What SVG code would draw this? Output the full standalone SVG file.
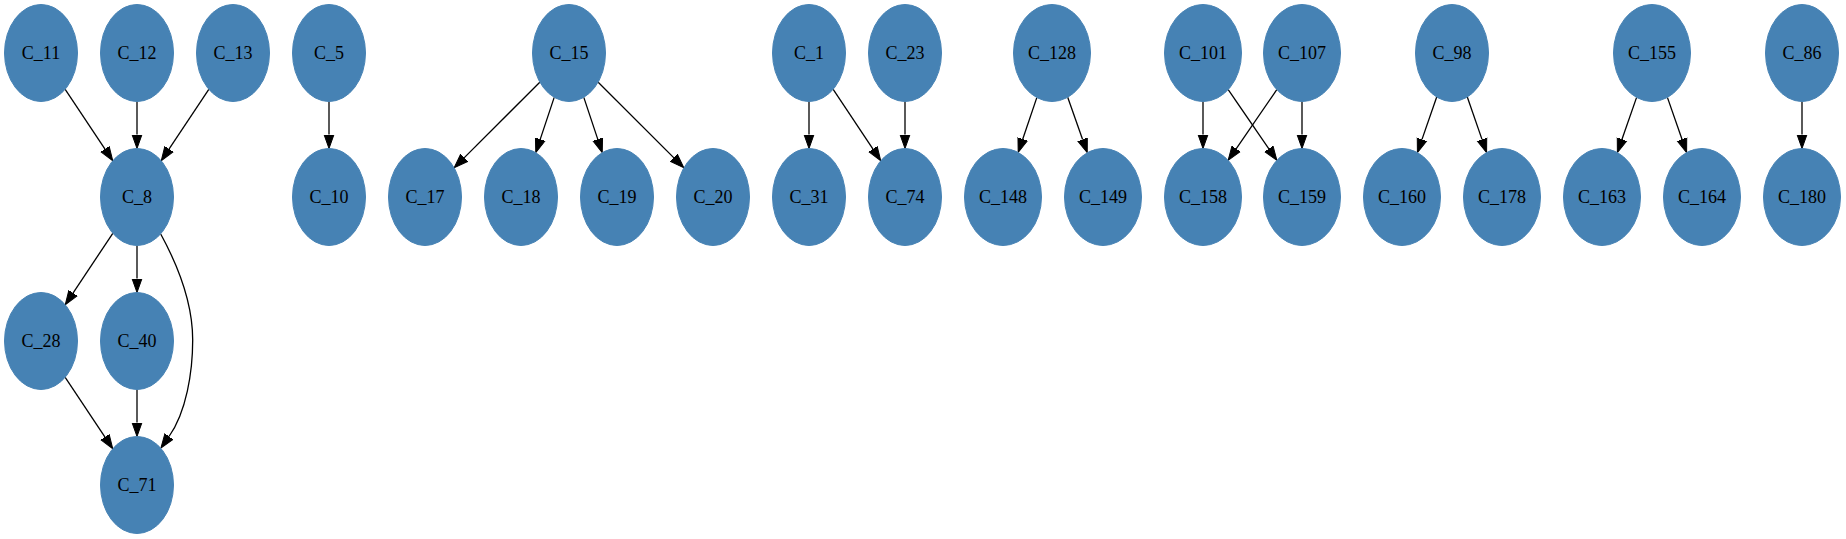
<svg xmlns="http://www.w3.org/2000/svg" width="1846" height="539" viewBox="0 0 1846 539">
<style>
.n ellipse{fill:#4682b4;stroke:#4682b4;stroke-width:1}
.n text{font-family:"Liberation Serif","Times New Roman",serif;font-size:18px;text-anchor:middle;fill:#000}
.e path{fill:none;stroke:#000;stroke-width:1.3;marker-end:url(#ah)}
</style>
<defs>
<marker id="ah" markerUnits="userSpaceOnUse" markerWidth="16" markerHeight="12" viewBox="0 -6 16 12" refX="0" refY="0" orient="auto">
<path d="M0,-5 L14,0 L0,5 Z" fill="#000" stroke="#000" stroke-width="1"/>
</marker>
</defs>
<rect width="1846" height="539" fill="#fff"/>
<g id="edges" class="e">
<path d="M65.2,89.3 L105,149.1"/>
<path d="M137,101.5 L137,134.5"/>
<path d="M208.8,89.3 L169,149.1"/>
<path d="M329,101.5 L329,134.5"/>
<path d="M112.8,233.3 L73,293.1"/>
<path d="M137,245.5 L137,278.5"/>
<path d="M65.2,377.3 L105,437.1"/>
<path d="M137,389.5 L137,422.5"/>
<path d="M160.7,234 C176,262 192.7,300 192.7,340 C192.7,372 186.3,412 169,436.5"/>
<path d="M539.8,82.2 L464.1,157.9"/>
<path d="M554.2,97.4 L540.2,139.4"/>
<path d="M583.8,97.4 L597.8,139.4"/>
<path d="M598.2,82.2 L673.9,157.9"/>
<path d="M809,101.5 L809,134.5"/>
<path d="M833.2,89.3 L873,149.1"/>
<path d="M905,101.5 L905,134.5"/>
<path d="M1036.8,97.6 L1022.7,139.2"/>
<path d="M1067.7,97.3 L1082.6,139.5"/>
<path d="M1203,101.5 L1203,134.5"/>
<path d="M1228.2,89.7 L1268.9,148.8"/>
<path d="M1276.8,89.7 L1236.1,148.8"/>
<path d="M1302,101.5 L1302,134.5"/>
<path d="M1436.7,97 L1422,139.4"/>
<path d="M1467.3,97 L1482,139.4"/>
<path d="M1636.6,97.4 L1622,139.3"/>
<path d="M1667.4,97.4 L1682,139.3"/>
<path d="M1802,101.5 L1802,134.5"/>
</g>
<g id="C_11" class="n"><ellipse cx="41" cy="53" rx="36.5" ry="48.5"/><text x="41" y="58.5">C_11</text></g>
<g id="C_12" class="n"><ellipse cx="137" cy="53" rx="36.5" ry="48.5"/><text x="137" y="58.5">C_12</text></g>
<g id="C_13" class="n"><ellipse cx="233" cy="53" rx="36.5" ry="48.5"/><text x="233" y="58.5">C_13</text></g>
<g id="C_5" class="n"><ellipse cx="329" cy="53" rx="36.5" ry="48.5"/><text x="329" y="58.5">C_5</text></g>
<g id="C_15" class="n"><ellipse cx="569" cy="53" rx="36.5" ry="48.5"/><text x="569" y="58.5">C_15</text></g>
<g id="C_1" class="n"><ellipse cx="809" cy="53" rx="36.5" ry="48.5"/><text x="809" y="58.5">C_1</text></g>
<g id="C_23" class="n"><ellipse cx="905" cy="53" rx="36.5" ry="48.5"/><text x="905" y="58.5">C_23</text></g>
<g id="C_128" class="n"><ellipse cx="1052" cy="53" rx="38.5" ry="48.5"/><text x="1052" y="58.5">C_128</text></g>
<g id="C_101" class="n"><ellipse cx="1203" cy="53" rx="38.5" ry="48.5"/><text x="1203" y="58.5">C_101</text></g>
<g id="C_107" class="n"><ellipse cx="1302" cy="53" rx="38.5" ry="48.5"/><text x="1302" y="58.5">C_107</text></g>
<g id="C_98" class="n"><ellipse cx="1452" cy="53" rx="36.5" ry="48.5"/><text x="1452" y="58.5">C_98</text></g>
<g id="C_155" class="n"><ellipse cx="1652" cy="53" rx="38.5" ry="48.5"/><text x="1652" y="58.5">C_155</text></g>
<g id="C_86" class="n"><ellipse cx="1802" cy="53" rx="36.5" ry="48.5"/><text x="1802" y="58.5">C_86</text></g>
<g id="C_8" class="n"><ellipse cx="137" cy="197" rx="36.5" ry="48.5"/><text x="137" y="202.5">C_8</text></g>
<g id="C_10" class="n"><ellipse cx="329" cy="197" rx="36.5" ry="48.5"/><text x="329" y="202.5">C_10</text></g>
<g id="C_17" class="n"><ellipse cx="425" cy="197" rx="36.5" ry="48.5"/><text x="425" y="202.5">C_17</text></g>
<g id="C_18" class="n"><ellipse cx="521" cy="197" rx="36.5" ry="48.5"/><text x="521" y="202.5">C_18</text></g>
<g id="C_19" class="n"><ellipse cx="617" cy="197" rx="36.5" ry="48.5"/><text x="617" y="202.5">C_19</text></g>
<g id="C_20" class="n"><ellipse cx="713" cy="197" rx="36.5" ry="48.5"/><text x="713" y="202.5">C_20</text></g>
<g id="C_31" class="n"><ellipse cx="809" cy="197" rx="36.5" ry="48.5"/><text x="809" y="202.5">C_31</text></g>
<g id="C_74" class="n"><ellipse cx="905" cy="197" rx="36.5" ry="48.5"/><text x="905" y="202.5">C_74</text></g>
<g id="C_148" class="n"><ellipse cx="1003" cy="197" rx="38.5" ry="48.5"/><text x="1003" y="202.5">C_148</text></g>
<g id="C_149" class="n"><ellipse cx="1103" cy="197" rx="38.5" ry="48.5"/><text x="1103" y="202.5">C_149</text></g>
<g id="C_158" class="n"><ellipse cx="1203" cy="197" rx="38.5" ry="48.5"/><text x="1203" y="202.5">C_158</text></g>
<g id="C_159" class="n"><ellipse cx="1302" cy="197" rx="38.5" ry="48.5"/><text x="1302" y="202.5">C_159</text></g>
<g id="C_160" class="n"><ellipse cx="1402" cy="197" rx="38.5" ry="48.5"/><text x="1402" y="202.5">C_160</text></g>
<g id="C_178" class="n"><ellipse cx="1502" cy="197" rx="38.5" ry="48.5"/><text x="1502" y="202.5">C_178</text></g>
<g id="C_163" class="n"><ellipse cx="1602" cy="197" rx="38.5" ry="48.5"/><text x="1602" y="202.5">C_163</text></g>
<g id="C_164" class="n"><ellipse cx="1702" cy="197" rx="38.5" ry="48.5"/><text x="1702" y="202.5">C_164</text></g>
<g id="C_180" class="n"><ellipse cx="1802" cy="197" rx="38.5" ry="48.5"/><text x="1802" y="202.5">C_180</text></g>
<g id="C_28" class="n"><ellipse cx="41" cy="341" rx="36.5" ry="48.5"/><text x="41" y="346.5">C_28</text></g>
<g id="C_40" class="n"><ellipse cx="137" cy="341" rx="36.5" ry="48.5"/><text x="137" y="346.5">C_40</text></g>
<g id="C_71" class="n"><ellipse cx="137" cy="485" rx="36.5" ry="48.5"/><text x="137" y="490.5">C_71</text></g>
</svg>
